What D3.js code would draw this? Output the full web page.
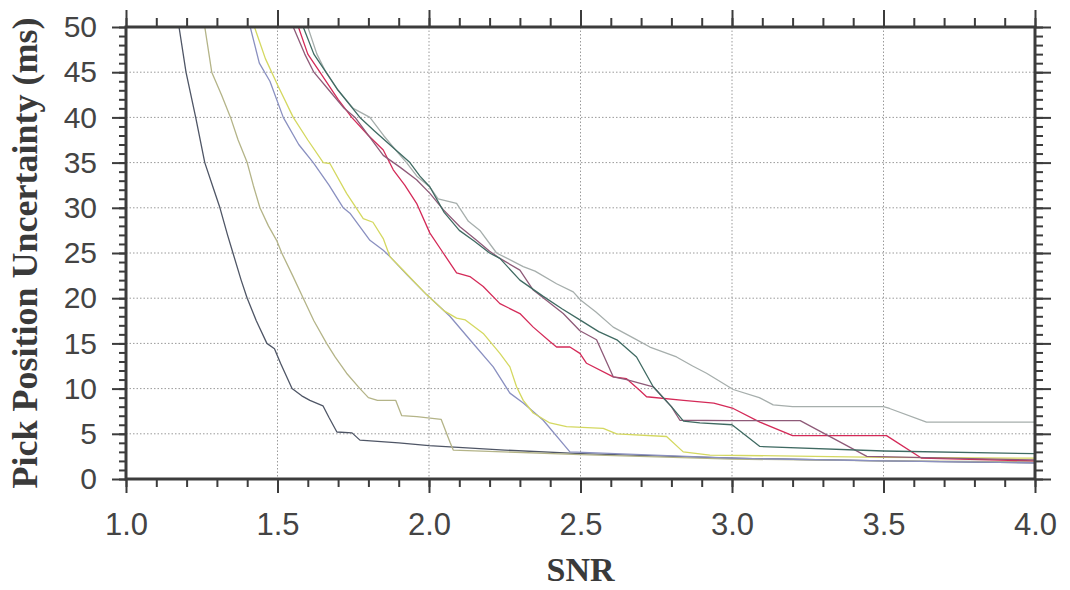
<!DOCTYPE html>
<html><head><meta charset="utf-8">
<script src="https://cdn.jsdelivr.net/npm/d3@7"></script>
<style>body{margin:0;background:#fff}</style>
</head><body><svg id="c" width="1070" height="590"></svg>
<script>
// ---- data (SNR, pick position uncertainty in ms) ----
const xTicks = [1.0, 1.5, 2.0, 2.5, 3.0, 3.5, 4.0];
const yTicks = [0, 5, 10, 15, 20, 25, 30, 35, 40, 45, 50];
const seriesNames = ["s1","s2","s3","s4","sA","sB","sC","sD"];
const s1 = [[1.175,50],[1.198,45],[1.23,40],[1.26,35],[1.29,32],[1.31,30],[1.335,27],[1.353,25],[1.38,22],[1.40,20],[1.43,17.5],[1.465,15],[1.49,14.4],[1.51,12.8],[1.548,10],[1.58,9.2],[1.607,8.7],[1.65,8.1],[1.67,6.8],[1.696,5.2],[1.746,5.1],[1.772,4.3],[1.9,4.0],[2.0,3.7],[2.25,3.2],[2.5,2.8],[3.0,2.3],[3.5,2.0],[4.0,1.8]];
const s2 = [[1.26,50],[1.283,45],[1.315,42.5],[1.345,40],[1.37,37.5],[1.40,35],[1.42,32.5],[1.442,30],[1.47,28],[1.497,26.4],[1.514,25],[1.55,22.5],[1.585,20],[1.62,17.5],[1.662,15],[1.69,13.5],[1.728,11.7],[1.772,10],[1.80,9.0],[1.83,8.7],[1.89,8.7],[1.91,7.0],[1.96,6.9],[2.04,6.6],[2.07,4.0],[2.08,3.2],[2.5,2.7],[3.0,2.2],[3.5,2.0],[4.0,1.9]];
const s3 = [[1.41,50],[1.44,46],[1.475,44],[1.519,40],[1.57,37],[1.618,35],[1.67,32.5],[1.717,30],[1.739,29.4],[1.805,26.4],[1.849,25.3],[1.871,24.6],[1.93,22.5],[1.992,20.4],[2.069,18],[2.135,15.4],[2.212,12.4],[2.267,9.5],[2.311,8.4],[2.377,6.5],[2.465,3.0],[3.0,2.3],[3.5,2.0],[4.0,1.8]];
const s4 = [[1.424,50],[1.46,46.5],[1.503,43.4],[1.552,40],[1.60,37.5],[1.651,35],[1.673,34.9],[1.728,31.6],[1.783,28.8],[1.815,28.4],[1.849,26.6],[1.871,24.6],[1.915,23.1],[1.992,20.4],[2.05,18.6],[2.091,17.8],[2.12,17.6],[2.179,16.1],[2.234,13.9],[2.267,12.4],[2.289,10.2],[2.311,8.7],[2.344,7.3],[2.399,6.2],[2.454,5.8],[2.575,5.6],[2.619,5.0],[2.784,4.7],[2.839,3.0],[2.927,2.65],[3.5,2.4],[4.0,2.3]];
const sA = [[1.60,50],[1.63,47],[1.66,45],[1.70,43],[1.75,41],[1.805,40],[1.85,38],[1.90,36],[1.926,35],[1.96,33.5],[2.003,32.3],[2.03,31],[2.091,30.5],[2.13,28.5],[2.168,27.5],[2.223,25],[2.311,23.5],[2.35,23],[2.421,21.6],[2.476,20.7],[2.50,19.8],[2.55,18.5],[2.608,16.8],[2.68,15.5],[2.729,14.6],[2.817,13.5],[2.87,12.5],[2.916,11.7],[3.004,9.9],[3.09,9.0],[3.136,8.2],[3.2,8.0],[3.5,8.0],[3.52,7.8],[3.642,6.3],[4.0,6.3]];
const sB = [[1.569,50],[1.60,47],[1.64,45],[1.70,42],[1.745,40],[1.80,38],[1.849,36.4],[1.882,34.2],[1.92,32.5],[1.959,30.5],[2.003,27.2],[2.047,25],[2.091,22.8],[2.135,22.4],[2.179,21.3],[2.234,19.4],[2.3,18.3],[2.344,16.8],[2.399,15.2],[2.421,14.6],[2.465,14.6],[2.498,13.9],[2.52,12.8],[2.608,11.3],[2.652,11.1],[2.696,9.8],[2.718,9.1],[2.84,8.7],[2.94,8.4],[3.004,7.8],[3.092,6.3],[3.2,4.8],[3.51,4.8],[3.626,2.3],[4.0,2.0]];
const sC = [[1.552,50],[1.59,47],[1.62,45],[1.67,43],[1.72,41],[1.756,40],[1.80,38],[1.849,35.8],[1.904,34.5],[1.959,33.1],[2.003,31.6],[2.047,29.8],[2.102,27.9],[2.157,26.4],[2.20,25.2],[2.234,24.4],[2.3,23.1],[2.344,20.9],[2.443,18.3],[2.498,16.4],[2.553,15.4],[2.608,11.3],[2.652,11.0],[2.74,10.2],[2.80,8.0],[2.828,6.5],[3.0,6.45],[3.225,6.45],[3.445,2.5],[4.0,2.1]];
const sD = [[1.585,50],[1.62,47],[1.66,45],[1.70,43],[1.772,40],[1.82,38.5],[1.87,37],[1.937,35],[1.97,33.5],[2.003,32.3],[2.05,29.5],[2.10,27.5],[2.15,26.3],[2.20,25],[2.234,24.4],[2.30,22],[2.377,20.2],[2.44,18.8],[2.498,17.6],[2.56,16.3],[2.62,15.4],[2.685,13.5],[2.74,10.2],[2.80,8.0],[2.84,6.4],[2.894,6.2],[3.0,6.0],[3.092,3.6],[3.5,3.1],[4.0,2.8]];
const seriesData = [s1, s2, s3, s4, sA, sB, sC, sD];
const seriesColors = ["#4f5666","#b4b488","#8a90c0","#d4d860","#a6aeac","#d42a58","#8e5a78","#3f6a62"];

// ---- layout ----
const svg = d3.select("#c");
const L = 126, R = 1035, T = 27, B = 479;
const x = d3.scaleLinear().domain([1, 4]).range([L, R]);
const y = d3.scaleLinear().domain([0, 50]).range([B, T]);
const ink = "#3c3c3c";

// grid
const grid = svg.append("g");
grid.selectAll("line.gx").data(xTicks.slice(1, -1)).join("line")
  .attr("x1", d => x(d)).attr("x2", d => x(d)).attr("y1", T).attr("y2", B)
  .attr("stroke", "#9a9a9a").attr("stroke-width", 1).attr("stroke-dasharray", "1.5,2");
grid.selectAll("line.gy").data(yTicks.slice(1, -1)).join("line")
  .attr("x1", L).attr("x2", R).attr("y1", d => y(d)).attr("y2", d => y(d))
  .attr("stroke", "#9a9a9a").attr("stroke-width", 1).attr("stroke-dasharray", "1.5,2");

// curves
svg.append("clipPath").attr("id", "clip").append("rect")
  .attr("x", L).attr("y", T).attr("width", R - L).attr("height", B - T);
const line = d3.line().x(d => x(d[0])).y(d => y(d[1]));
svg.append("g").attr("clip-path", "url(#clip)")
  .selectAll("path").data(seriesData).join("path")
  .attr("d", line).attr("fill", "none")
  .attr("stroke", (d, i) => seriesColors[i]).attr("stroke-width", 1.3)
  .attr("stroke-linejoin", "round");

// axes (ticks)
const minorX = d3.range(10, 41).map(v => v / 10);
const minorY = d3.range(0, 51);
// bottom
svg.append("g").attr("transform", `translate(0,${B})`)
  .call(d3.axisBottom(x).tickValues(minorX).tickSize(8).tickFormat(""))
  .call(g => g.select(".domain").remove()).selectAll("line").attr("stroke", ink).attr("stroke-width", 2);
svg.append("g").attr("transform", `translate(0,${B})`)
  .call(d3.axisBottom(x).tickValues(xTicks).tickSize(14).tickPadding(20).tickFormat(d3.format(".1f")))
  .call(g => g.select(".domain").remove())
  .call(g => g.selectAll("line").attr("stroke", ink).attr("stroke-width", 2))
  .call(g => g.selectAll("text").attr("fill", "#444").attr("font-family", "Liberation Sans, Arial, sans-serif").attr("font-size", 31));
// top
svg.append("g").attr("transform", `translate(0,${T})`)
  .call(d3.axisTop(x).tickValues(minorX).tickSize(9).tickFormat(""))
  .call(g => g.select(".domain").remove()).selectAll("line").attr("stroke", ink).attr("stroke-width", 2);
svg.append("g").attr("transform", `translate(0,${T})`)
  .call(d3.axisTop(x).tickValues(xTicks).tickSize(17).tickFormat(""))
  .call(g => g.select(".domain").remove()).selectAll("line").attr("stroke", ink).attr("stroke-width", 2);
// left
svg.append("g").attr("transform", `translate(${L},0)`)
  .call(d3.axisLeft(y).tickValues(minorY).tickSize(7).tickFormat(""))
  .call(g => g.select(".domain").remove()).selectAll("line").attr("stroke", ink).attr("stroke-width", 2);
svg.append("g").attr("transform", `translate(${L},0)`)
  .call(d3.axisLeft(y).tickValues(yTicks).tickSize(14).tickPadding(15).tickFormat(d3.format("d")))
  .call(g => g.select(".domain").remove())
  .call(g => g.selectAll("line").attr("stroke", ink).attr("stroke-width", 2))
  .call(g => g.selectAll("text").attr("fill", "#444").attr("font-family", "Liberation Sans, Arial, sans-serif").attr("font-size", 30));
// right
svg.append("g").attr("transform", `translate(${R},0)`)
  .call(d3.axisRight(y).tickValues(minorY).tickSize(8).tickFormat(""))
  .call(g => g.select(".domain").remove()).selectAll("line").attr("stroke", ink).attr("stroke-width", 2);
svg.append("g").attr("transform", `translate(${R},0)`)
  .call(d3.axisRight(y).tickValues(yTicks).tickSize(16).tickFormat(""))
  .call(g => g.select(".domain").remove()).selectAll("line").attr("stroke", ink).attr("stroke-width", 2);

// frame
svg.append("rect").attr("x", L).attr("y", T).attr("width", R - L).attr("height", B - T)
  .attr("fill", "none").attr("stroke", ink).attr("stroke-width", 3);

// titles
svg.append("text").attr("x", (L + R) / 2).attr("y", 581).attr("text-anchor", "middle")
  .attr("font-family", "Liberation Serif, Times New Roman, serif").attr("font-weight", "bold")
  .attr("font-size", 34).attr("fill", "#3a3a3a").text("SNR");
svg.append("text").attr("transform", "translate(37,253) rotate(-90)").attr("text-anchor", "middle")
  .attr("font-family", "Liberation Serif, Times New Roman, serif").attr("font-weight", "bold")
  .attr("font-size", 36).attr("fill", "#3a3a3a").text("Pick Position Uncertainty (ms)");
</script></body></html>
